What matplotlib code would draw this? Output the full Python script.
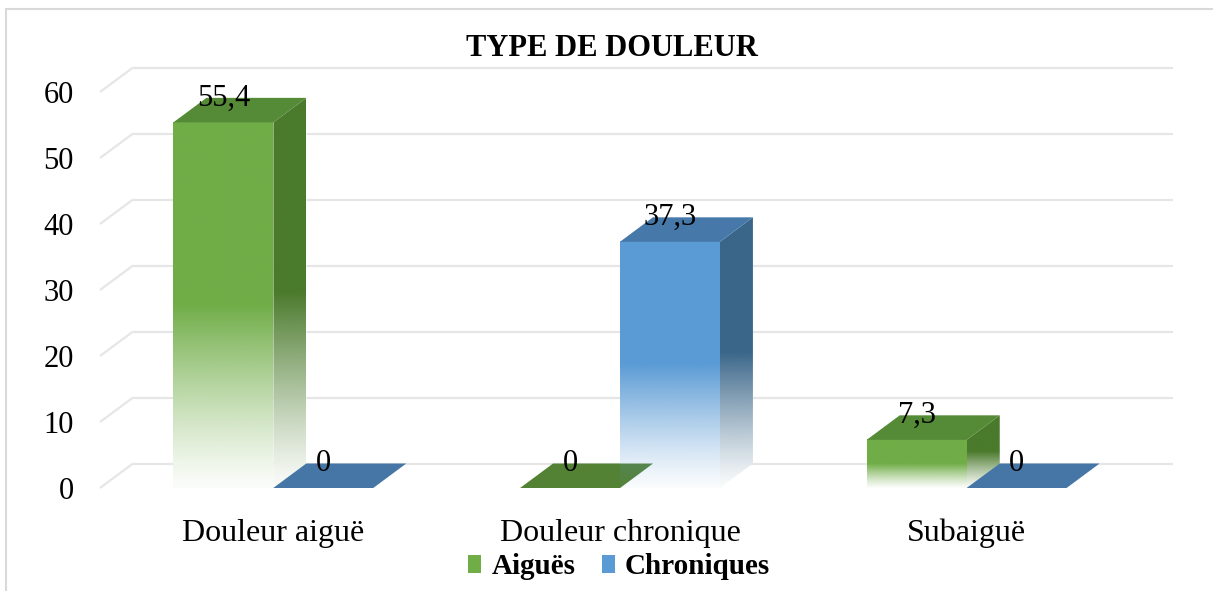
import numpy as np
import matplotlib
matplotlib.use("Agg")
import matplotlib.pyplot as plt
from matplotlib.patches import Polygon, Patch, Rectangle

# ---- data ----
categories = ["Douleur aiguë", "Douleur chronique", "Subaiguë"]
series_names = ["Aiguës", "Chroniques"]
aigues = [55.4, 0, 7.3]
chroniques = [0, 37.3, 0]
value_labels_aigues = ["55,4", "0", "7,3"]
value_labels_chroniques = ["0", "37,3", "0"]
yticks = [0, 10, 20, 30, 40, 50, 60]
title = "TYPE DE DOULEUR"

# ---- style ----
W, H = 1213, 591
plt.rcParams['font.family'] = ['Liberation Serif', 'DejaVu Serif']
fig = plt.figure(figsize=(W / 100, H / 100), dpi=100)
fig.patch.set_facecolor("white")

ax = fig.add_axes([100 / W, 1 - 488 / H, 1040 / W, 396 / H])
ax.set_xlim(-0.5, 2.5)
ax.set_ylim(0, 60)
for s in ax.spines.values():
    s.set_visible(False)

# depth offset in data units
px_x = 1040 / 3.0
px_y = 396 / 60.0
DX = 33 / px_x
DY = 24.5 / px_y

grid_c = "#E6E6E6"
for v in yticks:
    ax.plot([-0.5, -0.5 + DX], [v, v + DY], color=grid_c, lw=1.6, zorder=1, clip_on=False,
            solid_capstyle='butt')
    ax.plot([-0.5 + DX, 2.5 + DX], [v + DY, v + DY], color=grid_c, lw=1.6, zorder=1,
            clip_on=False, solid_capstyle='butt')

ax.set_yticks(yticks)
ax.set_yticklabels([str(t) for t in yticks], fontsize=22)
ax.tick_params(axis='y', length=0, pad=19)
ax.set_xticks(range(len(categories)))
ax.set_xticklabels(categories, fontsize=23)
ax.tick_params(axis='x', length=0, pad=22)

BW = 100 / px_x
OFF = 0.144

styles = {
    0: dict(front="#70AD47", side="#4A7A2C", top="#558A36", flat="#548235"),
    1: dict(front="#5B9BD5", side="#3A6689", top="#4679AA", flat="#4676A5"),
}


def grad_rgba(color, nrows):
    rgb = np.array(matplotlib.colors.to_rgb(color))
    t = np.linspace(0, 1, nrows)  # bottom -> top
    a = np.clip(t / 0.5, 0, 1)
    a = 0.03 + 0.97 * a ** 1.2
    img = np.zeros((nrows, 1, 4))
    img[:, 0, :3] = rgb
    img[:, 0, 3] = a
    return img[::-1]


def draw_bar(xc, v, st, label):
    x0, x1 = xc - BW / 2, xc + BW / 2
    if v <= 0:
        poly = Polygon([[x0, 0], [x1, 0], [x1 + DX, DY], [x0 + DX, DY]], closed=True,
                       facecolor=st["flat"], edgecolor="none", zorder=3, clip_on=False)
        ax.add_patch(poly)
    else:
        front = [[x0, 0], [x1, 0], [x1, v], [x0, v]]
        side = [[x1, 0], [x1 + DX, DY], [x1 + DX, v + DY], [x1, v]]
        top = [[x0, v], [x1, v], [x1 + DX, v + DY], [x0 + DX, v + DY]]
        for pts in (front, side):
            ax.add_patch(Polygon(pts, closed=True, facecolor="white", edgecolor="none",
                                 zorder=2, clip_on=False))
        im = ax.imshow(grad_rgba(st["front"], 400), extent=[x0, x1, 0, v],
                       aspect='auto', interpolation='bilinear', zorder=4)
        im.set_clip_on(False)
        sp = Polygon(side, closed=True, facecolor="none", edgecolor="none", transform=ax.transData)
        ax.add_patch(sp)
        im2 = ax.imshow(grad_rgba(st["side"], 400), extent=[x1, x1 + DX, 0, v + DY],
                        aspect='auto', interpolation='bilinear', zorder=4)
        im2.set_clip_path(sp)
        ax.add_patch(Polygon(top, closed=True, facecolor=st["top"], edgecolor="none",
                             zorder=5, clip_on=False))
    ax.text(xc, v + DY, label, ha='center', va='center', fontsize=22, zorder=6)


for i in range(len(categories)):
    draw_bar(i - OFF, aigues[i], styles[0], value_labels_aigues[i])
    draw_bar(i + OFF, chroniques[i], styles[1], value_labels_chroniques[i])

ax.set_xlim(-0.5, 2.5)
ax.set_ylim(0, 60)

fig.text(612 / W, 1 - 48 / H, title, ha='center', va='center', fontsize=22, fontweight='bold')

handles = [Patch(facecolor="#70AD47", edgecolor="none"),
           Patch(facecolor="#5B9BD5", edgecolor="none")]
fig.legend(handles, series_names, loc='center', bbox_to_anchor=(619 / W, 1 - 567 / H),
           ncol=2, frameon=False, prop=dict(weight='bold', size=21),
           handlelength=0.45, handleheight=0.55, handletextpad=0.35, columnspacing=0.9)

# chart border
fig.patches.append(Rectangle((6 / W, -0.1), 1.2, 1 - 9 / H + 0.1, transform=fig.transFigure,
                             facecolor="none", edgecolor="#D9D9D9", lw=1.5))

fig.savefig("out.png", dpi=100)
